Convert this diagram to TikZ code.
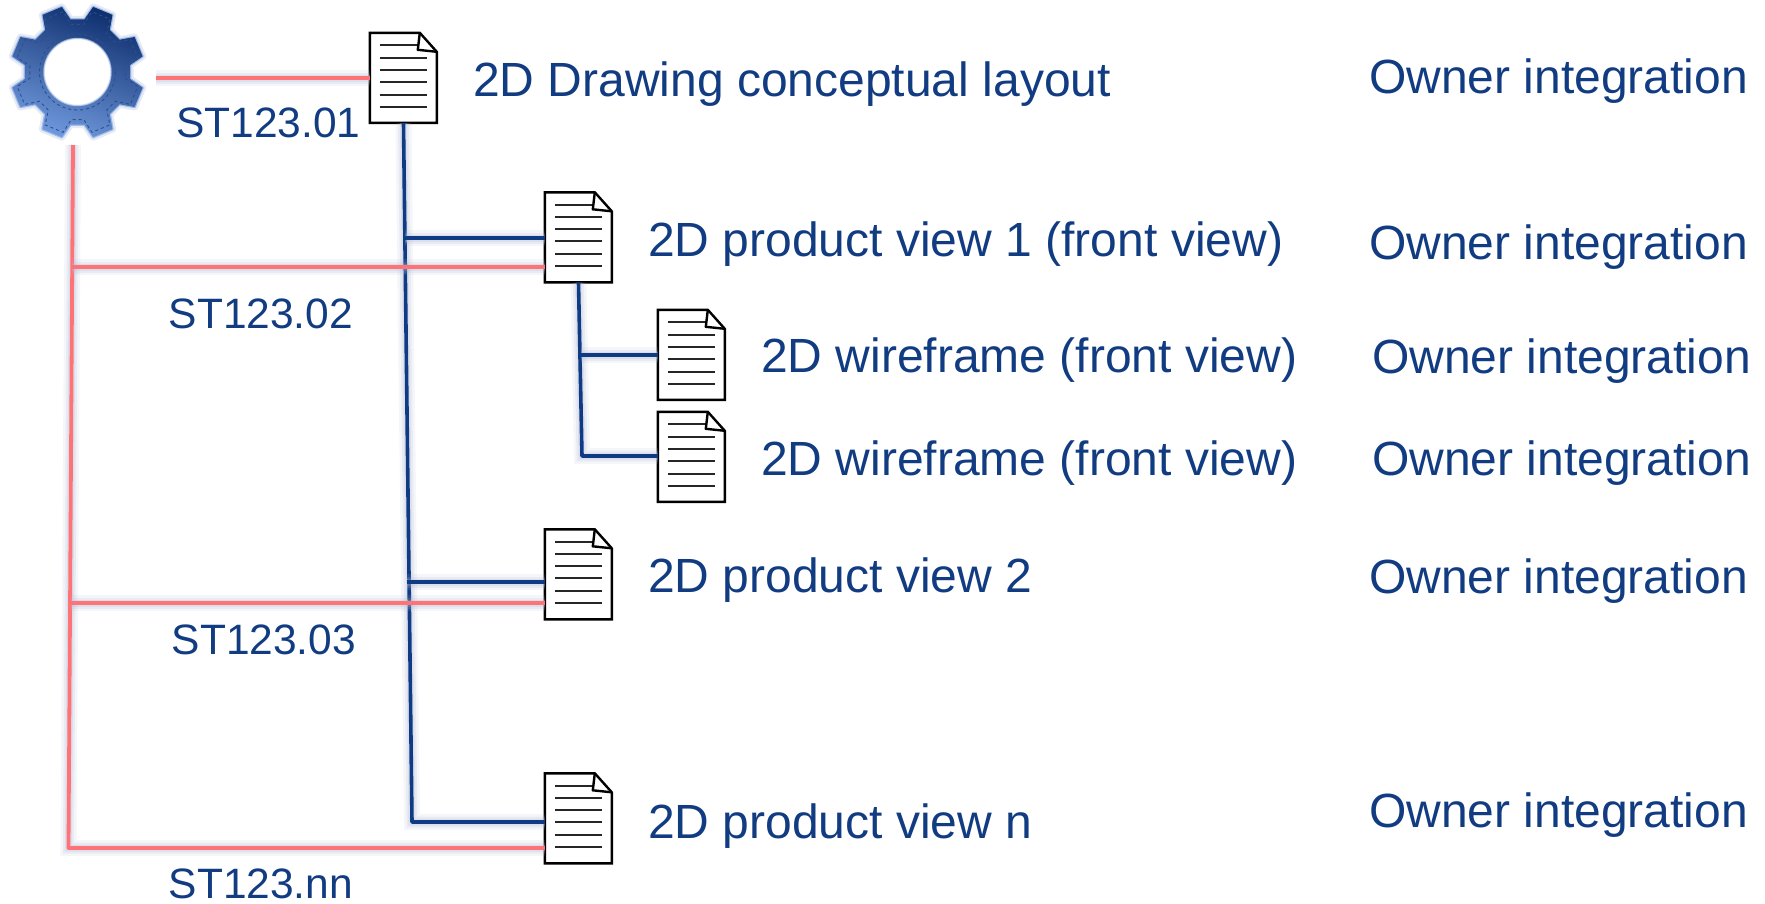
\documentclass[tikz,border=0pt]{standalone}
\usepackage{fontspec}
\setmainfont{Liberation Sans}
\definecolor{inkblue}{HTML}{123C82}
\definecolor{lineblue}{HTML}{0F3B84}
\definecolor{linered}{HTML}{FF7377}
\definecolor{glowc}{HTML}{B0B8D4}
\definecolor{gearhalo}{HTML}{8DB2EA}
\definecolor{geardark}{HTML}{0F2F6E}
\definecolor{gearlight}{HTML}{6E98DC}
\tikzset{
  docbox/.style={rectangle,minimum width=67pt,minimum height=90pt,inner sep=0pt,draw=none},
  docline/.style={draw=black!85,line width=1.8pt},
  softglow/.style={preaction={draw=glowc,line width=16pt,opacity=.12},
                   preaction={draw=glowc,line width=11pt,opacity=.18},
                   preaction={draw=glowc,line width=7pt,opacity=.25}},
  bluelink/.style={softglow,draw=lineblue,line width=3.6pt},
  redlink/.style={softglow,draw=linered,line width=3.8pt},
  big/.style={anchor=base west,inner sep=0pt,text=inkblue,font=\fontsize{48}{56}\selectfont},
  code/.style={anchor=base west,inner sep=0pt,text=inkblue,font=\fontsize{42.5}{50}\selectfont},
  gearnode/.style={circle,minimum size=134pt,inner sep=0pt,draw=none}
}
\newcommand{\docnode}[3]{%
  \node[docbox] (#1) at (#2,#3) {};
  \begin{scope}[shift={(#1.north west)}]
    \draw[black,line width=2.4pt,fill=white,line join=miter] (0,0) -- (50,0) -- (67,19) -- (67,90) -- (0,90) -- cycle;
    \draw[docline] (10,12.5) -- (49,12.5);
    \foreach \yy in {24.8,37,49,62,74}{\draw[docline] (10,\yy) -- (57,\yy);}
    \draw[black,line width=2.4pt,line join=round] (50,0) -- (48,17) -- (67,19);
  \end{scope}}
\newcommand{\gearoutline}[3]{% outer, root, half-angle
  (22.5-#3-6:#2) \foreach \aa in {22.5,67.5,...,337.5}{ -- (\aa-#3-6:#2) -- (\aa-#3:#1) -- (\aa+#3:#1) -- (\aa+#3+6:#2)} -- cycle}
\begin{document}
\begin{tikzpicture}[x=1pt,y=-1pt]
\useasboundingbox (0,0) rectangle (1765,903);
% gear
\node[gearnode] (gear) at (77.5,72) {};
\begin{scope}[shift={(gear.center)}]
  \draw[draw=glowc,line width=7pt,opacity=.3,line join=round] \gearoutline{67}{53}{9};
  \draw[draw=gearhalo,line width=2.5pt,opacity=.8,line join=round] \gearoutline{67}{53}{9};
  \path[even odd rule,top color=geardark,bottom color=gearlight,shading angle=-20,line join=round]
     \gearoutline{67}{53}{9} (0,0) circle (33.5);
  \draw[geardark!70!gearlight,line width=.9pt,dashed] \gearoutline{62}{48}{9};
  \draw[geardark!70!gearlight,line width=.9pt,dashed] (0,0) circle (38);
  \draw[gearlight!40!white,line width=1.5pt,opacity=.7] (0,0) circle (33.5);
\end{scope}
% documents
\docnode{d1}{403.5}{78}
\docnode{d2}{578.5}{237.5}
\docnode{d3}{691.5}{355}
\docnode{d4}{691.5}{457}
\docnode{d5}{578.5}{574.5}
\docnode{d6}{578.5}{818.5}
% named free ends
\coordinate (bj0) at (412,822);
\coordinate (bj1) at (404.5,238);
\coordinate (bj2) at (406.5,582);
\coordinate (cj0) at (582,456);
\coordinate (cj1) at (581,355);
\coordinate (r0) at (73,145);
\coordinate (rj1) at (71.5,267);
\coordinate (rj2) at (70.5,603);
\coordinate (rj3) at (68.5,848);
\coordinate (rs) at (156,78);
% blue connectors
\draw[bluelink,line join=round] (d1.south) -- (bj0) -- (bj0 -| d6.west);
\draw[bluelink] (bj1) -- (bj1 -| d2.west);
\draw[bluelink] (bj2) -- (bj2 -| d5.west);
\draw[bluelink,line join=round] (d2.south) -- (cj0) -- (cj0 -| d4.west);
\draw[bluelink] (cj1) -- (cj1 -| d3.west);
% red connectors
\draw[redlink] (rs) -- (d1.west);
\draw[redlink,line join=round] (r0) -- (rj3) -- (rj3 -| d6.west);
\draw[redlink] (rj1) -- (rj1 -| d2.west);
\draw[redlink] (rj2) -- (rj2 -| d5.west);
% labels
\node[big] (t1) at (473,96.5) {2D Drawing conceptual layout};
\node[big] (t2) at (648,256) {2D product view 1 (front view)};
\node[big] (t3) at (761,372) {2D wireframe (front view)};
\node[big] (t4) at (761,475) {2D wireframe (front view)};
\node[big] (t5) at (648,592) {2D product view 2};
\node[big] (t6) at (648,838) {2D product view n};
\node[big] (o1) at (1369,93.5) {Owner integration};
\node[big] (o2) at (1369,259) {Owner integration};
\node[big] (o3) at (1372,373) {Owner integration};
\node[big] (o4) at (1372,475) {Owner integration};
\node[big] (o5) at (1369,593) {Owner integration};
\node[big] (o6) at (1369,827) {Owner integration};
\node[code] (s1) at (176,137) {ST123.01};
\node[code] (s2) at (168.5,328) {ST123.02};
\node[code] (s3) at (171.5,654) {ST123.03};
\node[code] (s4) at (168.5,898) {ST123.nn};
\end{tikzpicture}
\end{document}
